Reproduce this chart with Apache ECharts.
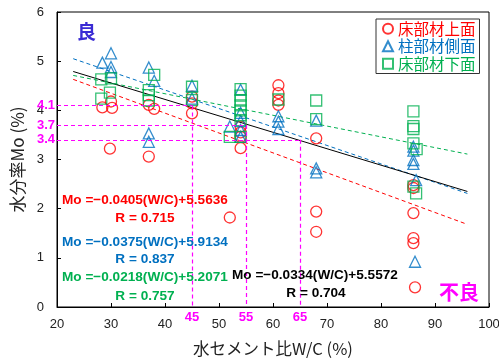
<!DOCTYPE html>
<html><head><meta charset="utf-8">
<script src="https://cdn.jsdelivr.net/npm/echarts@6/dist/echarts.min.js"></script>
<style>html,body{margin:0;padding:0;background:#fff}#c{width:499px;height:358px}</style>
</head><body><div id="c"></div>
<script>
// ---- data ----
const seriesNames = ['床部材上面', '柱部材側面', '床部材下面'];
const floorTop = [
  [28.4,4.06],[30,4.18],[30.2,4.05],[29.8,3.22],
  [37,4.11],[38,4.03],[37,3.06],
  [45,4.28],[45,4.14],[45,3.94],
  [54,3.67],[54,3.55],[54,3.46],[54,3.23],[52,1.82],
  [61,4.51],[61,4.35],[61,4.2],[61,4.11],
  [68,3.43],[68,1.94],[68,1.53],
  [86,2.48],[86,2.42],[86,1.91],[86,1.4],[86,1.3],[86.3,0.4]
];
const columnSide = [
  [28.4,4.97],[30,5.16],[30,4.88],[30,4.78],
  [37,4.87],[38,4.6],[37,3.53],[37,3.36],
  [45,4.5],[45,4.24],
  [54,4.42],[54,3.95],[54,3.78],[54,3.6],[54,3.46],[52,3.67],
  [61,3.88],[61,3.77],[61,3.62],
  [68,3.79],[68,2.82],[68,2.74],
  [86,3.26],[86,3.18],[86,2.99],[86,2.91],[86.5,2.58],[86.3,0.92]
];
const floorBottom = [
  [28.2,4.63],[30,4.65],[29.8,4.36],[28.2,4.24],
  [38,4.72],[37,4.41],[37,4.31],[37,4.2],
  [45,4.48],[45,4.21],
  [54,4.43],[54,4.3],[54,4.2],[54,4.1],[54,4.0],[54,3.9],[54,3.8],[52,3.46],[54,3.46],
  [61,4.22],
  [68,4.2],[68,3.82],
  [86,3.98],[86,3.68],[86,3.62],[86,3.33],[86.6,3.21],[86,2.45],[86.5,2.31]
];
// regression line end points
const fitTop = [[23,4.63],[96,1.68]];
const fitSide = [[23,5.05],[96,2.31]];
const fitBottom = [[23,4.71],[96,3.11]];
const fitAll = [[23,4.79],[96,2.35]];
// guide lines
const guideY = [4.1, 3.7, 3.4];
const guideX = [45, 55, 65];
const xTicks = [20,30,40,50,60,70,80,90,100];
const yTicks = [0,1,2,3,4,5,6];

const RED='#ff0000', BLUE='#0070c0', GREEN='#00b050', MAG='#ff00ff';
const numFont = 'Liberation Sans';
const cjk = '"Noto Sans CJK JP"';

const guideData = [];
guideY.forEach((v,i)=>{
  guideData.push([{coord:[20,v], label:{show:true,position:'start',distance:2,formatter:String(v)}},{coord:[guideX[i],v]}]);
  guideData.push([{coord:[guideX[i],v], label:{show:true,position:'end',distance:4,formatter:String(guideX[i])}},{coord:[guideX[i],0]}]);
});

const chart = echarts.init(document.getElementById('c'));
function scat(name, data, symbol, color){
  return {type:'scatter', name, data, symbol, symbolSize:11, z:3,
    itemStyle:{color:'transparent', borderColor:color, borderWidth:1.3}};
}
function fit(data, color, type){
  return {type:'line', data, symbol:'none', silent:true, z:2,
    lineStyle:{color, width:1, type}};
}
const eqStyle = (color)=>({fontFamily:numFont, fontWeight:'bold', fontSize:13.6, fill:color});
function txt(x,y,text,color,align){
  return {type:'text', x, y, style:Object.assign(eqStyle(color),{text, textAlign:align||'left', textVerticalAlign:'middle'}), z:10};
}
chart.setOption({
  animation:false,
  grid:{left:57, right:10, top:12, bottom:51, show:true, borderColor:'#000', borderWidth:1, outerBoundsMode:'none', containLabel:false},
  xAxis:{type:'value', min:20, max:100, interval:10,
    name:'水セメント比W/C (%)', nameLocation:'middle', nameGap:33,
    nameTextStyle:{fontFamily:cjk, fontSize:16.5, color:'#222'},
    axisLine:{lineStyle:{color:'#000', width:1}},
    axisTick:{inside:true, length:4, lineStyle:{color:'#000'}},
    axisLabel:{fontFamily:numFont, fontSize:13, color:'#222', margin:11},
    splitLine:{show:false}},
  yAxis:{type:'value', min:0, max:6, interval:1,
    name:'水分率Mo (%)', nameLocation:'middle', nameGap:30,
    nameTextStyle:{fontFamily:cjk, fontSize:17, color:'#222'},
    axisLine:{lineStyle:{color:'#000', width:1}},
    axisTick:{inside:true, length:4, lineStyle:{color:'#000'}},
    axisLabel:{fontFamily:numFont, fontSize:13, color:'#222', margin:13},
    splitLine:{show:false}},
  legend:{data:[
      {name:seriesNames[0], textStyle:{color:RED}},
      {name:seriesNames[1], textStyle:{color:BLUE}},
      {name:seriesNames[2], textStyle:{color:GREEN}}],
    orient:'vertical', left:376, top:19, itemWidth:10, itemHeight:10, itemGap:2,
    padding:[2,4,2,6], borderColor:'#333', borderWidth:1, backgroundColor:'#fff',
    textStyle:{fontFamily:cjk, fontSize:15.5}},
  series:[
    fit(fitTop, RED, [4,3]),
    fit(fitSide, BLUE, [4,3]),
    fit(fitBottom, GREEN, [4,3]),
    Object.assign(fit(fitAll, '#000', 'solid'), {
      markLine:{silent:true, symbol:'none', animation:false,
        lineStyle:{color:MAG, width:1.2, type:[4,3]},
        label:{color:MAG, fontFamily:numFont, fontWeight:'bold', fontSize:13},
        data:guideData}}),
    scat(seriesNames[0], floorTop, 'circle', RED),
    scat(seriesNames[1], columnSide, 'triangle', BLUE),
    scat(seriesNames[2], floorBottom, 'rect', GREEN)
  ],
  graphic:[
    {type:'text', x:86.5, y:32, style:{text:'良', fontFamily:cjk, fontWeight:'bold', fontSize:19, fill:'#3a2bd4', textAlign:'center', textVerticalAlign:'middle'}},
    {type:'text', x:459, y:292, style:{text:'不良', fontFamily:cjk, fontWeight:'bold', fontSize:20, fill:MAG, textAlign:'center', textVerticalAlign:'middle'}},
    txt(62,200,'Mo =−0.0405(W/C)+5.5636',RED),
    txt(145,218,'R = 0.715',RED,'center'),
    txt(62,242,'Mo =−0.0375(W/C)+5.9134',BLUE),
    txt(145,259,'R = 0.837',BLUE,'center'),
    txt(62,277,'Mo =−0.0218(W/C)+5.2071',GREEN),
    txt(145,296,'R = 0.757',GREEN,'center'),
    txt(232,275,'Mo =−0.0334(W/C)+5.5572','#000'),
    txt(316,293,'R = 0.704','#000','center')
  ]
});
</script></body></html>
